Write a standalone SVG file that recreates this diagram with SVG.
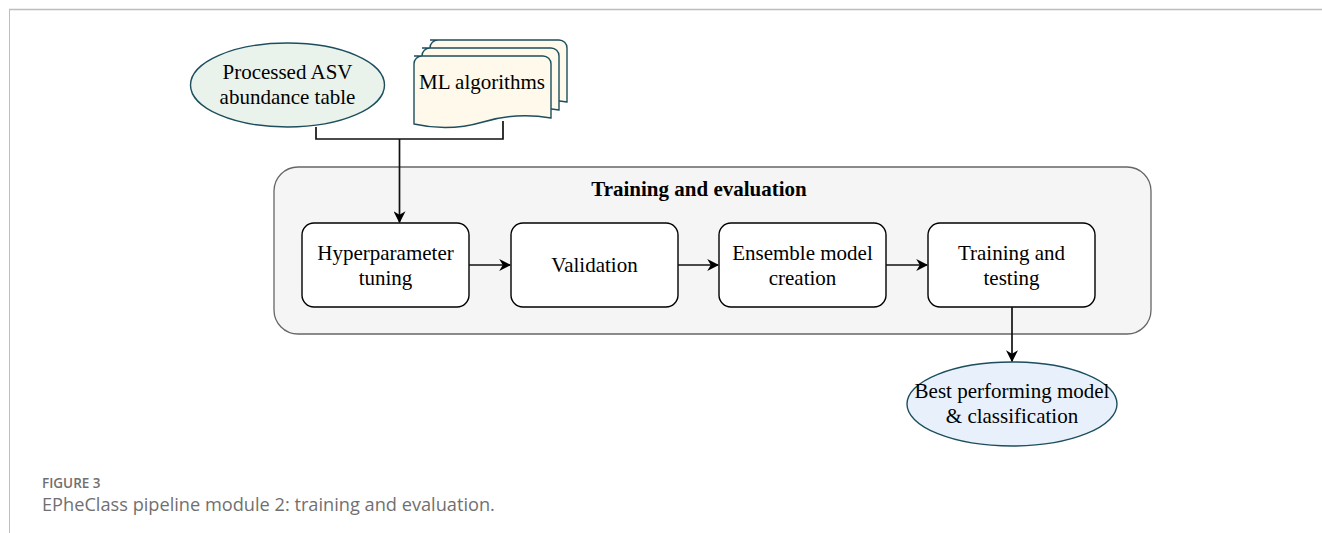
<svg xmlns="http://www.w3.org/2000/svg" width="1322" height="533" viewBox="0 0 1322 533">
<defs>
<style>
.t{font-family:"Liberation Serif","Times New Roman",serif;font-size:21px;fill:#000;text-anchor:middle}
.box{fill:#fff;stroke:#000;stroke-width:1.4}
.conn{fill:none;stroke:#111;stroke-width:1.7}
.teal{stroke:#1c4e5e;stroke-width:1.4}
.cap{font-family:"Open Sans","Liberation Sans",sans-serif;fill:#707070}
</style>
<marker id="ah" viewBox="0 0 10 10" refX="9" refY="5" markerWidth="12" markerHeight="12" markerUnits="userSpaceOnUse" orient="auto">
<path d="M0,0 L10,5 L0,10 L3,5 Z" fill="#000"/>
</marker>
</defs>
<rect width="1322" height="533" fill="#fff"/>
<g id="frame">
<line x1="9" y1="9.5" x2="1322" y2="9.5" stroke="#bdbdbd" stroke-width="1.5"/>
<line x1="9.5" y1="9" x2="9.5" y2="533" stroke="#bdbdbd" stroke-width="1"/>
</g>
<g id="container">
<rect x="274" y="167" width="877" height="167" rx="24" fill="#f5f5f5" stroke="#666" stroke-width="1.3"/>
<text x="699" y="196" class="t" font-weight="bold">Training and evaluation</text>
</g>
<g id="input-table">
<ellipse cx="287.5" cy="85" rx="97" ry="42" fill="#e9f3ec" class="teal"/>
<text x="287.5" y="79" class="t">Processed ASV</text>
<text x="287.5" y="104" class="t">abundance table</text>
</g>
<g id="ml-algorithms">
<path d="M430,40 h129 a8,8 0 0 1 8,8 v54 q-35,-6 -68,4 q-34,10 -69,2 v-60 a8,8 0 0 1 8,-8 Z" fill="#fef9ea" class="teal"/>
<path d="M422,48 h129 a8,8 0 0 1 8,8 v54 q-35,-6 -68,4 q-34,10 -69,2 v-60 a8,8 0 0 1 8,-8 Z" fill="#fef9ea" class="teal"/>
<path d="M414,56 h129 a8,8 0 0 1 8,8 v54 q-35,-6 -68,4 q-34,10 -69,2 v-60 a8,8 0 0 1 8,-8 Z" fill="#fef9ea" class="teal"/>
<text x="482" y="89" class="t">ML algorithms</text>
</g>
<g id="hyper">
<rect x="302" y="223" width="167" height="84" rx="12" class="box"/>
<text x="385.5" y="260" class="t">Hyperparameter</text>
<text x="385.5" y="285" class="t">tuning</text>
</g>
<g id="validation">
<rect x="511" y="223" width="167" height="84" rx="12" class="box"/>
<text x="594.5" y="272" class="t">Validation</text>
</g>
<g id="ensemble">
<rect x="719" y="223" width="167" height="84" rx="12" class="box"/>
<text x="802.5" y="260" class="t">Ensemble model</text>
<text x="802.5" y="285" class="t">creation</text>
</g>
<g id="training">
<rect x="928" y="223" width="167" height="84" rx="12" class="box"/>
<text x="1011.5" y="260" class="t">Training and</text>
<text x="1011.5" y="285" class="t">testing</text>
</g>
<g id="best">
<ellipse cx="1012" cy="404" rx="105" ry="42" fill="#e8f1fb" class="teal"/>
<text x="1012" y="398" class="t">Best performing model</text>
<text x="1012" y="423" class="t">&amp; classification</text>
</g>
<g id="connectors">
<polyline points="316,127 316,139 503,139 503,121" class="conn"/>
<line x1="399.5" y1="139" x2="399.5" y2="222" class="conn" marker-end="url(#ah)"/>
<line x1="469" y1="265" x2="510" y2="265" class="conn" marker-end="url(#ah)"/>
<line x1="678" y1="265" x2="718" y2="265" class="conn" marker-end="url(#ah)"/>
<line x1="886" y1="265" x2="927" y2="265" class="conn" marker-end="url(#ah)"/>
<line x1="1012" y1="307" x2="1012" y2="361" class="conn" marker-end="url(#ah)"/>
</g>
<g id="caption">
<text x="42" y="488" class="cap" style="font-size:13.5px;font-weight:600">FIGURE 3</text>
<text x="42" y="511" class="cap" style="font-size:18.2px">EPheClass pipeline module 2: training and evaluation.</text>
</g>
</svg>
